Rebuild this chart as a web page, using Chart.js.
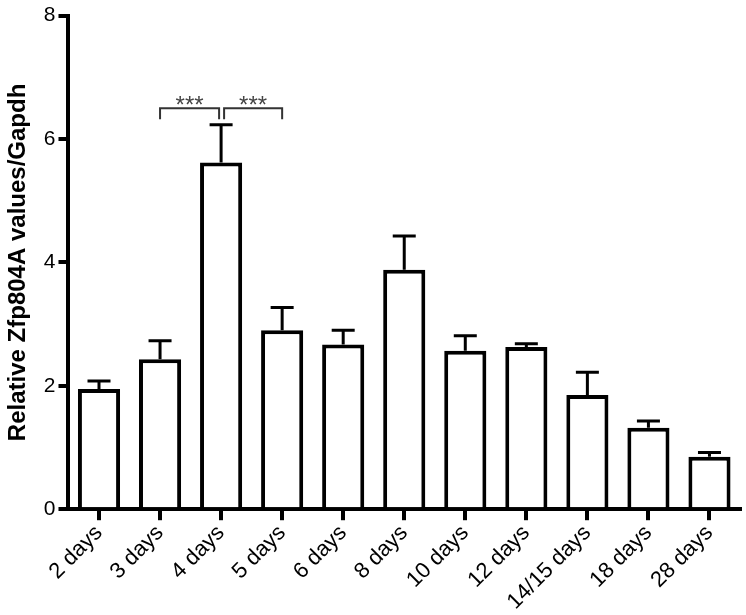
<!DOCTYPE html>
<html>
<head>
<meta charset="utf-8">
<script src="https://cdn.jsdelivr.net/npm/chart.js@4"></script>
<style>
  html, body { margin: 0; padding: 0; background: #fff; }
  #wrap { width: 746px; height: 615px; }
</style>
</head>
<body>
<div id="wrap"><canvas id="chart" width="746" height="615"></canvas></div>
<script>
// Data
const labels = ['2 days', '3 days', '4 days', '5 days', '6 days', '8 days', '10 days', '12 days', '14/15 days', '18 days', '28 days'];
const means = [1.95, 2.43, 5.62, 2.90, 2.67, 3.88, 2.57, 2.63, 1.85, 1.32, 0.85];
const sem = [0.13, 0.30, 0.61, 0.37, 0.23, 0.55, 0.24, 0.05, 0.37, 0.11, 0.07];
const yTicks = [0, 2, 4, 6, 8];
// significance brackets: from index, to index, label, level
const sigFrom = [1, 2];
const sigTo = [2, 3];
const sigText = ['***', '***'];
const sigLevel = 6.5;

const FONT = "'Liberation Sans', Arial, sans-serif";

// Upper error bars (mean + SEM)
const errorBars = {
  id: 'errorBars',
  afterDatasetsDraw(chart) {
    const ctx = chart.ctx;
    const x = chart.scales.x, y = chart.scales.y;
    ctx.save();
    ctx.strokeStyle = '#000';
    ctx.lineWidth = 3;
    means.forEach((m, i) => {
      const cx = x.getPixelForValue(i);
      const y0 = y.getPixelForValue(m);
      const y1 = y.getPixelForValue(m + sem[i]);
      ctx.beginPath();
      ctx.moveTo(cx, y0);
      ctx.lineTo(cx, y1);
      ctx.moveTo(cx - 11.5, y1);
      ctx.lineTo(cx + 11.5, y1);
      ctx.stroke();
    });
    ctx.restore();
  }
};

// *** brackets above 4 days
const sigBrackets = {
  id: 'sigBrackets',
  afterDatasetsDraw(chart) {
    const ctx = chart.ctx;
    const x = chart.scales.x, y = chart.scales.y;
    const top = y.getPixelForValue(sigLevel);
    const drop = 11;
    ctx.save();
    ctx.strokeStyle = '#333';
    ctx.lineWidth = 2;
    ctx.fillStyle = '#444';
    ctx.font = '24px ' + FONT;
    ctx.textAlign = 'center';
    ctx.textBaseline = 'alphabetic';
    sigFrom.forEach((f, k) => {
      let x0 = x.getPixelForValue(f);
      let x1 = x.getPixelForValue(sigTo[k]);
      if (k === 0) x1 -= 2; else x0 += 3;
      ctx.beginPath();
      ctx.moveTo(x0, top + drop);
      ctx.lineTo(x0, top);
      ctx.lineTo(x1, top);
      ctx.lineTo(x1, top + drop);
      ctx.stroke();
      ctx.fillText(sigText[k], (x0 + x1) / 2, top + 5);
    });
    ctx.restore();
  }
};

new Chart(document.getElementById('chart'), {
  type: 'bar',
  data: {
    labels: labels,
    datasets: [{
      data: means,
      backgroundColor: '#fff',
      borderColor: '#000',
      borderWidth: 4,
      borderSkipped: 'start',
      barPercentage: 0.69,
      categoryPercentage: 1.0
    }]
  },
  options: {
    responsive: false,
    animation: false,
    layout: { padding: { top: 5, right: 6, bottom: 0, left: 2 } },
    plugins: {
      legend: { display: false },
      tooltip: { enabled: false }
    },
    scales: {
      x: {
        offset: true,
        grid: {
          offset: false,
          drawOnChartArea: false,
          drawTicks: true,
          tickLength: 11,
          lineWidth: 4,
          color: '#000'
        },
        border: { display: true, width: 4, color: '#000' },
        ticks: {
          color: '#000',
          font: { family: FONT, size: 22 },
          minRotation: 45,
          maxRotation: 45,
          padding: 0
        }
      },
      y: {
        min: 0,
        max: 8,
        afterBuildTicks: (axis) => { axis.ticks = yTicks.map(v => ({ value: v })); },
        grid: {
          drawOnChartArea: false,
          drawTicks: true,
          tickLength: 10,
          lineWidth: 4,
          color: '#000'
        },
        border: { display: true, width: 4, color: '#000' },
        ticks: {
          color: '#000',
          font: { family: FONT, size: 21 },
          padding: 3
        },
        title: {
          display: true,
          text: 'Relative Zfp804A values/Gapdh',
          color: '#000',
          font: { family: FONT, size: 24, weight: 'bold' },
          padding: { top: 2, bottom: 8 }
        }
      }
    }
  },
  plugins: [errorBars, sigBrackets]
});
</script>
</body>
</html>
